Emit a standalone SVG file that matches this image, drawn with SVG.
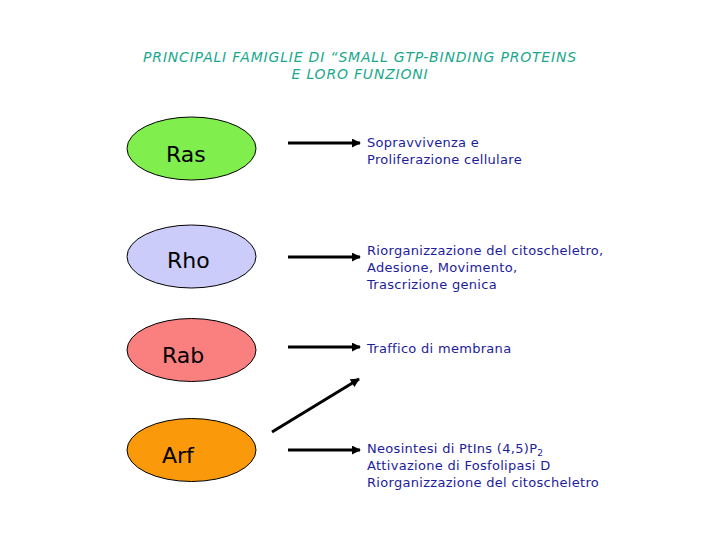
<svg xmlns="http://www.w3.org/2000/svg" width="720" height="540" viewBox="0 0 720 540">
<defs>
<marker id="ah" viewBox="0 0 10 10" refX="9" refY="5" markerWidth="3" markerHeight="3" orient="auto" markerUnits="strokeWidth">
<path d="M0,0 L10,5 L0,10 z" fill="#000"/>
</marker>
<style>
.title{font-family:"DejaVu Sans",sans-serif;font-style:italic;font-size:14px;letter-spacing:0.8px;fill:#1aa88c;text-anchor:middle}
.lbl{font-family:"DejaVu Sans",sans-serif;font-size:22px;fill:#000}
.fn{font-family:"DejaVu Sans",sans-serif;font-size:13px;letter-spacing:0.3px;fill:#1c1c9c}
.node ellipse{stroke:#000;stroke-width:1}
.conn line{stroke:#000;stroke-width:3;marker-end:url(#ah)}
</style>
</defs>
<rect width="720" height="540" fill="#fff"/>
<text class="title" x="360" y="62">PRINCIPALI FAMIGLIE DI “SMALL GTP-BINDING PROTEINS</text>
<text class="title" x="360" y="79">E LORO FUNZIONI</text>
<g id="ras" class="node"><ellipse cx="191.5" cy="148.5" rx="64.5" ry="31.5" fill="#80ee4c"/><text class="lbl" x="166" y="162">Ras</text></g>
<g id="rho" class="node"><ellipse cx="191.5" cy="256.5" rx="64.5" ry="31.5" fill="#ccccfa"/><text class="lbl" x="167" y="268">Rho</text></g>
<g id="rab" class="node"><ellipse cx="191.5" cy="350" rx="64.5" ry="31.5" fill="#fa8080"/><text class="lbl" x="162" y="363">Rab</text></g>
<g id="arf" class="node"><ellipse cx="191.5" cy="450" rx="64.5" ry="31.5" fill="#fa9a0a"/><text class="lbl" x="162" y="463">Arf</text></g>
<g id="connectors" class="conn">
<line x1="288" y1="143" x2="360" y2="143"/>
<line x1="288" y1="257" x2="360" y2="257"/>
<line x1="288" y1="347" x2="360" y2="347"/>
<line x1="288" y1="450" x2="360" y2="450"/>
<line x1="272" y1="432" x2="359" y2="379"/>
</g>
<g id="f-ras"><text class="fn" x="367" y="147">Sopravvivenza e</text><text class="fn" x="367" y="164">Proliferazione cellulare</text></g>
<g id="f-rho"><text class="fn" x="367" y="255">Riorganizzazione del citoscheletro,</text><text class="fn" x="367" y="272">Adesione, Movimento,</text><text class="fn" x="367" y="289">Trascrizione genica</text></g>
<g id="f-rab"><text class="fn" x="367" y="353">Traffico di membrana</text></g>
<g id="f-arf"><text class="fn" x="367" y="453">Neosintesi di PtIns (4,5)P<tspan font-size="9" dy="3">2</tspan></text><text class="fn" x="367" y="470">Attivazione di Fosfolipasi D</text><text class="fn" x="367" y="487">Riorganizzazione del citoscheletro</text></g>
</svg>
